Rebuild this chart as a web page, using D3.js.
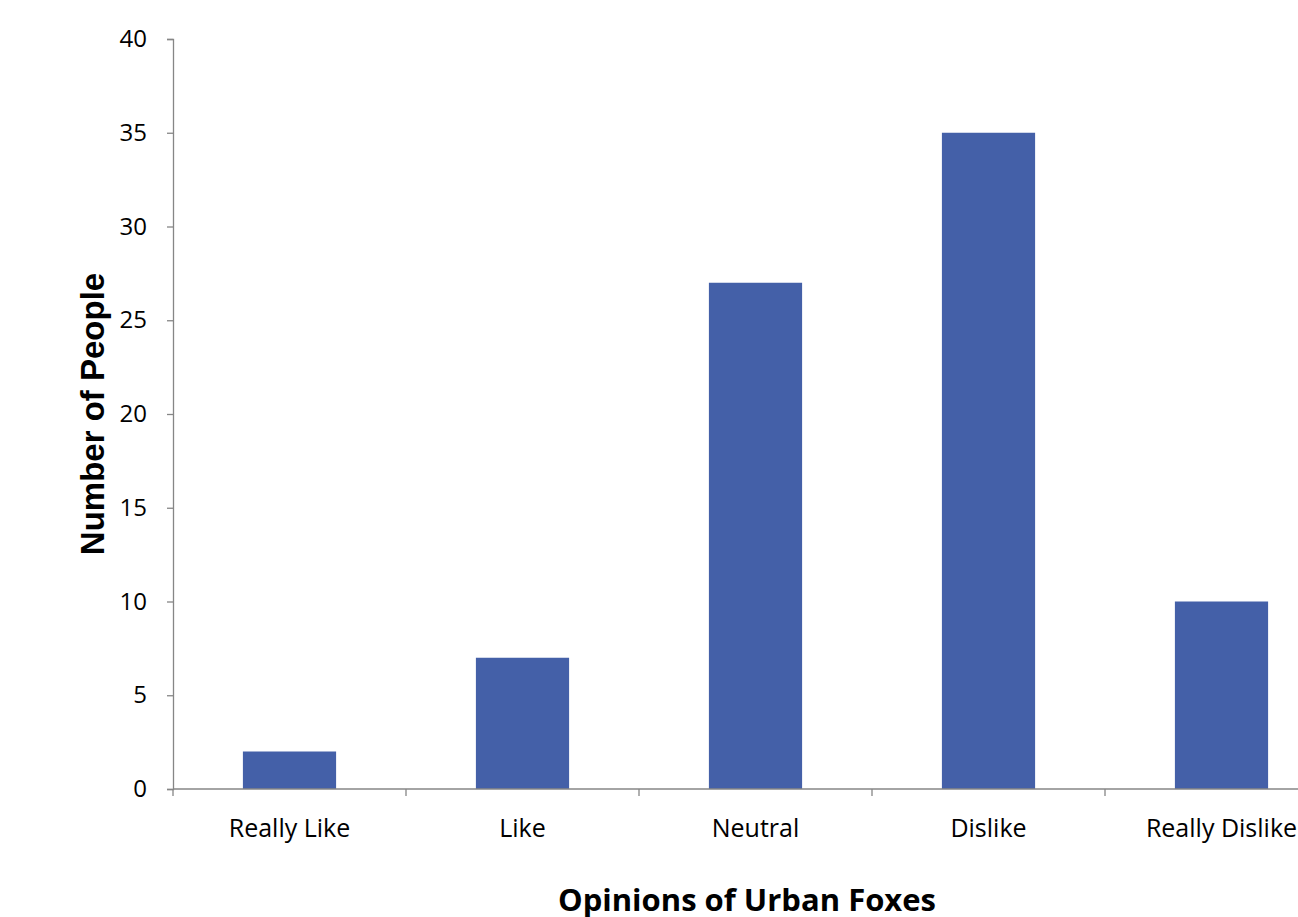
<!DOCTYPE html>
<html><head><meta charset="utf-8">
<script src="https://cdn.jsdelivr.net/npm/d3@7"></script>
<style>body{margin:0;background:#fff;overflow:hidden}svg{display:block}</style>
</head><body>
<svg id="c" width="1298" height="917"></svg>
<script>
const categories = ["Really Like", "Like", "Neutral", "Dislike", "Really Dislike"];
const values = [2, 7, 27, 35, 10];
const yTicks = [0, 5, 10, 15, 20, 25, 30, 35, 40];
const xTitle = "Opinions of Urban Foxes";
const yTitle = "Number of People";

(function () {
const svg = d3.select("#c");
const mLeft = 173, mRight = 1338, mTop = 39, mBottom = 789;
const axisColor = "#868686";
const tickFont = "Open Sans, Lato, sans-serif";

const x = d3.scaleBand().domain(categories).range([mLeft, mRight]).paddingInner(0.6).paddingOuter(0.3);
const y = d3.scaleLinear().domain([0, 40]).range([mBottom, mTop]);

svg.selectAll("rect.bar").data(values).enter().append("rect")
  .attr("class", "bar")
  .attr("x", (d, i) => x(categories[i]))
  .attr("width", x.bandwidth())
  .attr("y", d => y(d))
  .attr("height", d => y(0) - y(d))
  .attr("fill", "#4460a8");

const yAxis = d3.axisLeft(y).tickValues(yTicks).tickSize(6).tickPadding(20);
const gy = svg.append("g").attr("transform", `translate(${mLeft},0)`).call(yAxis);
gy.select(".domain").attr("stroke", axisColor).attr("stroke-width", 1.3);
gy.selectAll(".tick line").attr("stroke", axisColor).attr("stroke-width", 1.3);
gy.selectAll(".tick text").attr("font-family", tickFont).attr("font-size", 24).attr("fill", "#000");

const half = (x.step() - x.bandwidth()) / 2;
svg.append("line").attr("x1", mLeft).attr("x2", 1298).attr("y1", y(0)).attr("y2", y(0))
  .attr("stroke", axisColor).attr("stroke-width", 1.3);
svg.selectAll("line.xt").data(categories).enter().append("line")
  .attr("class", "xt")
  .attr("x1", d => x(d) - half).attr("x2", d => x(d) - half)
  .attr("y1", y(0)).attr("y2", y(0) + 7)
  .attr("stroke", axisColor).attr("stroke-width", 1.3);
svg.selectAll("text.xl").data(categories).enter().append("text")
  .attr("class", "xl")
  .attr("x", d => x(d) + x.bandwidth() / 2)
  .attr("y", 837)
  .attr("text-anchor", "middle")
  .attr("font-family", tickFont).attr("font-size", 25)
  .text(d => d);

svg.append("text").attr("x", 747).attr("y", 911).attr("text-anchor", "middle")
  .attr("font-family", "Open Sans, sans-serif").attr("font-weight", "bold").attr("font-size", 31)
  .text(xTitle);
svg.append("text").attr("transform", "translate(104,414) rotate(-90)").attr("text-anchor", "middle")
  .attr("font-family", "Liberation Sans, Arial, sans-serif").attr("font-weight", "bold").attr("font-size", 33)
  .text(yTitle);
})();
</script>
</body></html>
